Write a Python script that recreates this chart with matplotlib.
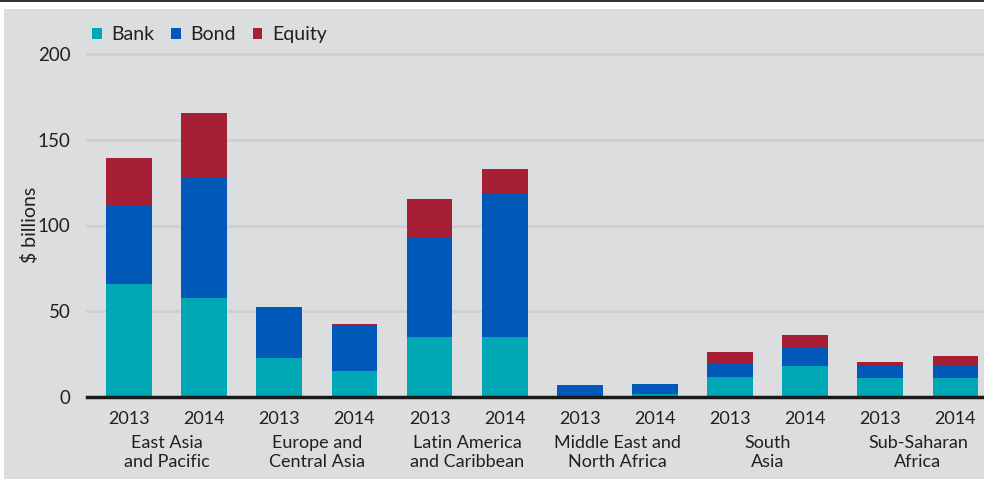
import numpy as np
import matplotlib
matplotlib.use("Agg")
import matplotlib.pyplot as plt
from matplotlib.patches import Rectangle

# Data ($ billions)
regions = ["East Asia\nand Pacific", "Europe and\nCentral Asia", "Latin America\nand Caribbean",
           "Middle East and\nNorth Africa", "South\nAsia", "Sub-Saharan\nAfrica"]
years = ["2013", "2014"]
bank = [66, 58, 23, 15, 35, 35, 0, 1.6, 11.7, 18, 11.1, 11.1]
bond = [45.5, 69.5, 29, 26.2, 57.7, 84, 6.9, 6, 7.7, 10.8, 7.6, 7.6]
equity = [28, 38, 0.6, 1.6, 22.8, 14, 0, 0, 6.8, 7.4, 1.7, 5.2]

BG = "#dcdddf"
C_BANK = "#00a7b5"
C_BOND = "#0058b9"
C_EQ = "#a61f35"
TXT = "#231f20"

plt.rcParams.update({
    "font.family": ["Lato", "DejaVu Sans"],
    "text.color": TXT,
    "xtick.color": TXT,
    "ytick.color": TXT,
})

fig = plt.figure(figsize=(9.84, 4.79), dpi=100, facecolor=BG)
# top border strip
fig.patches.append(Rectangle((0, 1 - 9 / 479), 1, 9 / 479, transform=fig.transFigure,
                             facecolor="white", edgecolor="none", zorder=0))
fig.patches.append(Rectangle((0, 1 - 2 / 479), 1, 2 / 479, transform=fig.transFigure,
                             facecolor="#333333", edgecolor="none", zorder=1))
fig.patches.append(Rectangle((0, 0), 4 / 984, 1 - 9 / 479, transform=fig.transFigure,
                             facecolor="white", edgecolor="none", zorder=0))

ax = fig.add_axes([87 / 984, 1 - 397 / 479, 1 - 87 / 984, (397 - 54) / 479])
ax.set_facecolor(BG)

x = np.arange(len(bank))
bank = np.array(bank)
bond = np.array(bond)
equity = np.array(equity)
w = 0.61
ax.bar(x, bank, w, color=C_BANK, label="Bank", zorder=3)
ax.bar(x, bond, w, bottom=bank, color=C_BOND, label="Bond", zorder=3)
ax.bar(x, equity, w, bottom=bank + bond, color=C_EQ, label="Equity", zorder=3)

ax.set_xlim(-0.56, 11.38)
ax.set_ylim(0, 200)
ax.set_yticks([0, 50, 100, 150, 200])
for yv in [50, 100, 150, 200]:
    ax.axhline(yv, color="#cfd0d2", linewidth=2.2, zorder=1, clip_on=False)
ax.axhline(0, color="#1a1a1a", linewidth=2.5, zorder=4, clip_on=False)

for s in ax.spines.values():
    s.set_visible(False)
ax.tick_params(axis="y", length=0, pad=12, labelsize=13.5)
ax.tick_params(axis="x", length=0, pad=10, labelsize=13)
ax.set_xticks(x)
ax.set_xticklabels(years * len(regions))

for i, r in enumerate(regions):
    ax.text(2 * i + 0.5, -0.11, r, transform=ax.get_xaxis_transform(),
            ha="center", va="top", fontsize=13, linespacing=1.25)

fig.text(30 / 984, 1 - 225 / 479, "$ billions", rotation=90, ha="center", va="center",
         fontsize=14)

leg = ax.legend(loc="lower left", bbox_to_anchor=(-0.003, 1.008), ncol=3, frameon=False,
                fontsize=14, handlelength=0.5, handleheight=0.5, handletextpad=0.5,
                columnspacing=0.85, borderaxespad=0)

fig.savefig("out.png", dpi=100, facecolor=BG)
